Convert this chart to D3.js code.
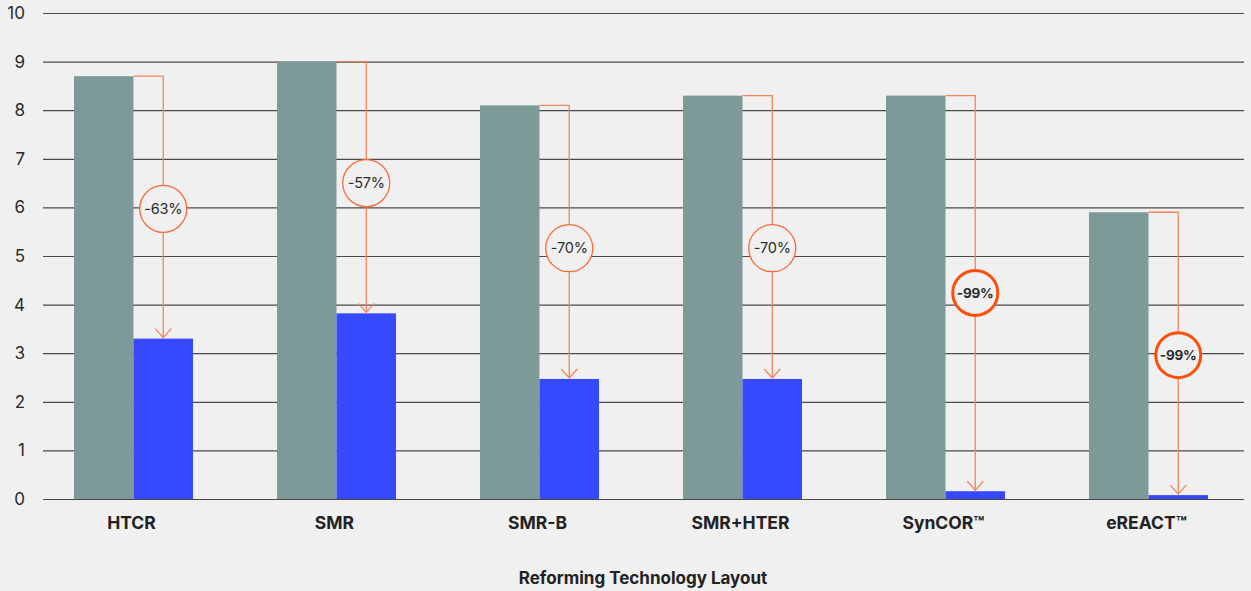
<!DOCTYPE html>
<html>
<head>
<meta charset="utf-8">
<script src="https://cdn.jsdelivr.net/npm/d3@7"></script>
<style>
  body { margin: 0; background: #f0f0f0; font-family: Inter, "Noto Sans", sans-serif; }
</style>
</head>
<body>
<div id="chart"></div>
<script>
// Data
const categories = ["HTCR", "SMR", "SMR-B", "SMR+HTER", "SynCOR™", "eREACT™"];
const baseline = [8.7, 9.0, 8.1, 8.3, 8.3, 5.9];
const reduced = [3.3, 3.82, 2.47, 2.47, 0.16, 0.08];
const reductionLabels = ["-63%", "-57%", "-70%", "-70%", "-99%", "-99%"];
const labelLevels = [5.97, 6.5, 5.16, 5.16, 4.24, 2.96];  // where the badge sits on the y scale
const highlight = [false, false, false, false, true, true];
const yTicks = [0, 1, 2, 3, 4, 5, 6, 7, 8, 9, 10];

const width = 1251, height = 591;
const margin = {top: 13, bottom: 92, left: 43, right: 7};

const svg = d3.select("#chart")
    .append("svg")
    .attr("width", width)
    .attr("height", height)
    .style("background", "#f0f0f0");

// scales
const xScale = d3.scaleBand()
    .domain(categories)
    .range([32, 1250]);

const subScale = d3.scaleBand()
    .domain(["before", "after"])
    .range([0, xScale.bandwidth()])
    .paddingInner(0)
    .paddingOuter(0.706);

const yScale = d3.scaleLinear()
    .domain([0, 10])
    .range([height - margin.bottom, margin.top]);

// gridlines + y labels
const yAxis = svg.append("g")
    .attr("transform", `translate(${margin.left},0)`)
    .call(d3.axisLeft(yScale)
        .tickValues(yTicks)
        .tickSize(-(width - margin.left - margin.right))
        .tickPadding(18)
        .tickFormat(d3.format("d")));
yAxis.select(".domain").remove();
yAxis.selectAll(".tick line")
    .attr("stroke", "#4a4a4a")
    .attr("stroke-width", 1.2);
yAxis.selectAll(".tick text")
    .attr("fill", "#2b2b2b")
    .style("font-size", "17px")
    .style("font-family", "Inter, sans-serif");

const rows = categories.map((c, i) => ({
    cat: c, before: baseline[i], after: reduced[i], level: labelLevels[i],
    label: reductionLabels[i], bold: highlight[i]
}));

const groups = svg.selectAll(".group")
    .data(rows)
    .enter().append("g")
    .attr("class", "group")
    .attr("transform", d => `translate(${xScale(d.cat)},0)`);

groups.append("rect")
    .attr("x", subScale("before"))
    .attr("y", d => yScale(d.before))
    .attr("width", subScale.bandwidth())
    .attr("height", d => yScale(0) - yScale(d.before))
    .attr("fill", "#7d9a98");

groups.append("rect")
    .attr("x", subScale("after"))
    .attr("y", d => yScale(d.after))
    .attr("width", subScale.bandwidth())
    .attr("height", d => yScale(0) - yScale(d.after))
    .attr("fill", "#3649ff");

// reduction arrows
const arrowColor = "#f7845a";
groups.each(function(d) {
    const g = d3.select(this);
    const x0 = subScale("after");
    const xc = subScale("after") + subScale.bandwidth() / 2;
    const yTop = yScale(d.before);
    const yEnd = yScale(d.after) - 1;
    const yMid = yScale(d.level);

    g.append("path")
        .attr("d", `M${x0},${yTop}H${xc}V${yEnd}`)
        .attr("fill", "none")
        .attr("stroke", arrowColor)
        .attr("stroke-width", 1.3);

    g.append("path")
        .attr("d", `M${xc - 8},${yEnd - 9}L${xc},${yEnd}L${xc + 8},${yEnd - 9}`)
        .attr("fill", "none")
        .attr("stroke", arrowColor)
        .attr("stroke-width", 1.3);

    g.append("circle")
        .attr("cx", xc)
        .attr("cy", yMid)
        .attr("r", d.bold ? 22.5 : 23.5)
        .attr("fill", "#f0f0f0")
        .attr("stroke", d.bold ? "#ff4d0a" : "#f86a3a")
        .attr("stroke-width", d.bold ? 3 : 1.3);

    g.append("text")
        .attr("x", xc)
        .attr("y", yMid)
        .attr("dy", "0.35em")
        .attr("text-anchor", "middle")
        .style("font-size", d.bold ? "13.5px" : "14.5px")
        .style("letter-spacing", "-0.2px")
        .style("font-weight", d.bold ? 700 : 400)
        .attr("fill", "#2b2b2b")
        .text(d.label);
});

// category labels
svg.selectAll(".cat-label")
    .data(categories)
    .enter().append("text")
    .attr("class", "cat-label")
    .attr("x", d => xScale(d) + xScale.bandwidth() / 2 - 2)
    .attr("y", 529)
    .attr("text-anchor", "middle")
    .style("font-size", "17.5px")
    .style("font-weight", 700)
    .attr("fill", "#222")
    .text(d => d);

// x-axis title
svg.append("text")
    .attr("x", 643)
    .attr("y", 584)
    .attr("text-anchor", "middle")
    .style("font-size", "17px")
    .style("font-weight", 700)
    .attr("fill", "#222")
    .text("Reforming Technology Layout");
</script>
</body>
</html>
